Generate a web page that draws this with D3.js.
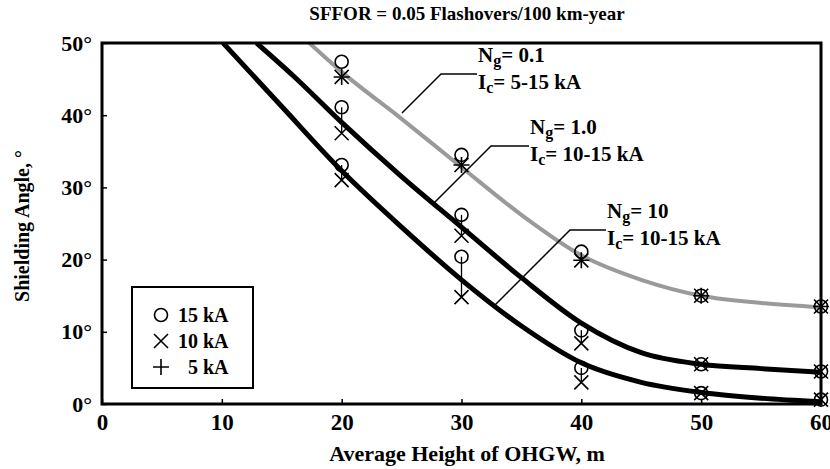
<!DOCTYPE html>
<html><head><meta charset="utf-8">
<script src="https://cdn.jsdelivr.net/npm/d3@7"></script>
<style>
body{margin:0;background:#fff;}
svg text{font-family:"Liberation Serif","DejaVu Serif","Times New Roman",serif !important;font-weight:bold;fill:#000;}
</style></head>
<body><svg id="c" width="830" height="469"></svg>
<script>
// ---- data ----
const xTicks = [0,10,20,30,40,50,60];
const yTicks = [0,10,20,30,40,50];
const heights = [20,30,40,50,60];
// curves (height m, shielding angle deg)
const curveNg01 = [[17.3,50],[20,46],[25,39.5],[30,32.8],[35,26.2],[40,20.6],[45,17.2],[50,15],[55,14],[60,13.4]];
const curveNg1  = [[12.9,50],[16,45.4],[20,39],[25,31.5],[30,24.5],[35,17.5],[40,11.2],[45,7.1],[50,5.5],[55,4.9],[60,4.4]];
const curveNg10 = [[10.1,50],[15,41.2],[20,32.3],[25,24.5],[30,17.2],[35,10.8],[40,5.7],[45,3.0],[50,1.6],[55,0.8],[60,0.3]];
// points
const ng01_15kA = [47.4,34.5,21.1,15,13.5];
const ng01_10kA = [45.3,33.1,19.9,15,13.5];
const ng01_5kA  = [45.3,33.1,19.9,15,13.5];
const ng1_15kA  = [41.1,26.2,10.2,5.5,4.5];
const ng1_10kA  = [37.5,23.3,8.4,5.5,4.5];
const ng10_15kA = [33.1,20.4,5.0,1.5,0.6];
const ng10_10kA = [31.0,14.8,3.0,1.5,0.6];
const legendLabels = ["15 kA","10 kA","5 kA"];

const svg = d3.select("#c");
const x = d3.scaleLinear().domain([0,60]).range([102,821]);
const y = d3.scaleLinear().domain([0,50]).range([404,43]);
const FONT = "'Liberation Serif','DejaVu Serif',serif";

// title
svg.append("text").attr("x",467).attr("y",20).attr("text-anchor","middle")
  .style("font-size","19px").text("SFFOR = 0.05 Flashovers/100 km-year");

// axes
const gx = svg.append("g").attr("transform","translate(0,404)")
  .call(d3.axisBottom(x).tickValues(xTicks).tickSizeInner(-5).tickSizeOuter(0).tickPadding(10).tickFormat(d3.format("d")));
gx.select(".domain").remove();
gx.selectAll("text").attr("font-family",FONT).attr("font-size",23).attr("font-weight","bold");
gx.selectAll("line").attr("stroke-width",1.5);
const gy = svg.append("g").attr("transform","translate(102,0)")
  .call(d3.axisLeft(y).tickValues(yTicks).tickSizeInner(-5).tickSizeOuter(0).tickPadding(10).tickFormat(d=>d+"°"));
gy.select(".domain").remove();
gy.selectAll("text").attr("font-family",FONT).attr("font-size",22).attr("font-weight","bold");
gy.selectAll("line").attr("stroke-width",1.5);

// axis titles
svg.append("text").attr("x",467).attr("y",461).attr("text-anchor","middle")
  .style("font-size","22px").text("Average Height of OHGW, m");
svg.append("text").attr("transform","translate(29,226) rotate(-90)").attr("text-anchor","middle")
  .style("font-size","20px").text("Shielding Angle, °");

// clip
svg.append("clipPath").attr("id","clip").append("rect")
  .attr("x",102).attr("y",43).attr("width",719).attr("height",361);

const line = d3.line().x(d=>x(d[0])).y(d=>y(d[1])).curve(d3.curveMonotoneX);
const plot = svg.append("g").attr("clip-path","url(#clip)");
plot.append("path").datum(curveNg01).attr("d",line).attr("fill","none")
  .attr("stroke","#9a9a9a").attr("stroke-width",4);
plot.append("path").datum(curveNg1).attr("d",line).attr("fill","none")
  .attr("stroke","#000").attr("stroke-width",5);
plot.append("path").datum(curveNg10).attr("d",line).attr("fill","none")
  .attr("stroke","#000").attr("stroke-width",5);

// frame
svg.append("rect").attr("x",x(0)).attr("y",y(50)).attr("width",x(60)-x(0)).attr("height",y(0)-y(50))
  .attr("fill","none").attr("stroke","#000").attr("stroke-width",3);

// markers
const mk = svg.append("g");
function circles(vals){ vals.forEach((v,i)=>mk.append("circle").attr("cx",x(heights[i])).attr("cy",y(v)).attr("r",6.5)
  .attr("fill","none").attr("stroke","#000").attr("stroke-width",1.6)); }
function crosses(vals){ vals.forEach((v,i)=>{const cx=x(heights[i]),cy=y(v),s=7;
  mk.append("path").attr("d",`M${cx-s},${cy-s}L${cx+s},${cy+s}M${cx-s},${cy+s}L${cx+s},${cy-s}`)
    .attr("stroke","#000").attr("stroke-width",1.6).attr("fill","none");}); }
function pluses(vals){ vals.forEach((v,i)=>{const cx=x(heights[i]),cy=y(v),s=8;
  mk.append("path").attr("d",`M${cx-s},${cy}L${cx+s},${cy}M${cx},${cy-s}L${cx},${cy+s}`)
    .attr("stroke","#000").attr("stroke-width",1.6).attr("fill","none");}); }
function connectors(a,b){ a.forEach((v,i)=>mk.append("line").attr("x1",x(heights[i])).attr("x2",x(heights[i]))
  .attr("y1",y(v)).attr("y2",y(b[i])).attr("stroke","#000").attr("stroke-width",1.3)); }
connectors(ng1_15kA,ng1_10kA); connectors(ng10_15kA,ng10_10kA);
circles(ng01_15kA); crosses(ng01_10kA); pluses(ng01_5kA);
circles(ng1_15kA); crosses(ng1_10kA);
circles(ng10_15kA); crosses(ng10_10kA);

// annotations
function label(tx,ty,ngVal,icVal){
  const t1 = svg.append("text").attr("x",tx).attr("y",ty).style("font-size","21px");
  t1.append("tspan").text("N");
  t1.append("tspan").attr("dy",4).style("font-size","16px").text("g");
  t1.append("tspan").attr("dy",-4).text("= "+ngVal);
  const t2 = svg.append("text").attr("x",tx).attr("y",ty+27).style("font-size","21px");
  t2.append("tspan").text("I");
  t2.append("tspan").attr("dy",4).style("font-size","16px").text("c");
  t2.append("tspan").attr("dy",-4).text("= "+icVal);
}
function leader(pts){ svg.append("path").attr("d",d3.line()(pts)).attr("fill","none").attr("stroke","#000").attr("stroke-width",1.5); }
label(478,62,"0.1","5-15 kA");
leader([[477,74],[441,74],[402,113]]);
label(530,134,"1.0","10-15 kA");
leader([[529,146],[491,146],[433,204]]);
label(607,218,"10","10-15 kA");
leader([[606,230],[570,230],[493,307]]);

// legend
svg.append("rect").attr("x",132).attr("y",287).attr("width",121).attr("height",101)
  .attr("fill","#fff").attr("stroke","#000").attr("stroke-width",2);
const lg = svg.append("g");
const ly = [315,341,367];
lg.append("circle").attr("cx",161).attr("cy",ly[0]).attr("r",6.5).attr("fill","none").attr("stroke","#000").attr("stroke-width",1.6);
lg.append("path").attr("d",`M${154},${ly[1]-7}L${168},${ly[1]+7}M${154},${ly[1]+7}L${168},${ly[1]-7}`).attr("stroke","#000").attr("stroke-width",1.6);
lg.append("path").attr("d",`M${153},${ly[2]}L${169},${ly[2]}M${161},${ly[2]-8}L${161},${ly[2]+8}`).attr("stroke","#000").attr("stroke-width",1.6);
legendLabels.forEach((s,i)=>lg.append("text").attr("x",i===2?188:178).attr("y",ly[i]+7).style("font-size","20px").text(s));
</script></body></html>
